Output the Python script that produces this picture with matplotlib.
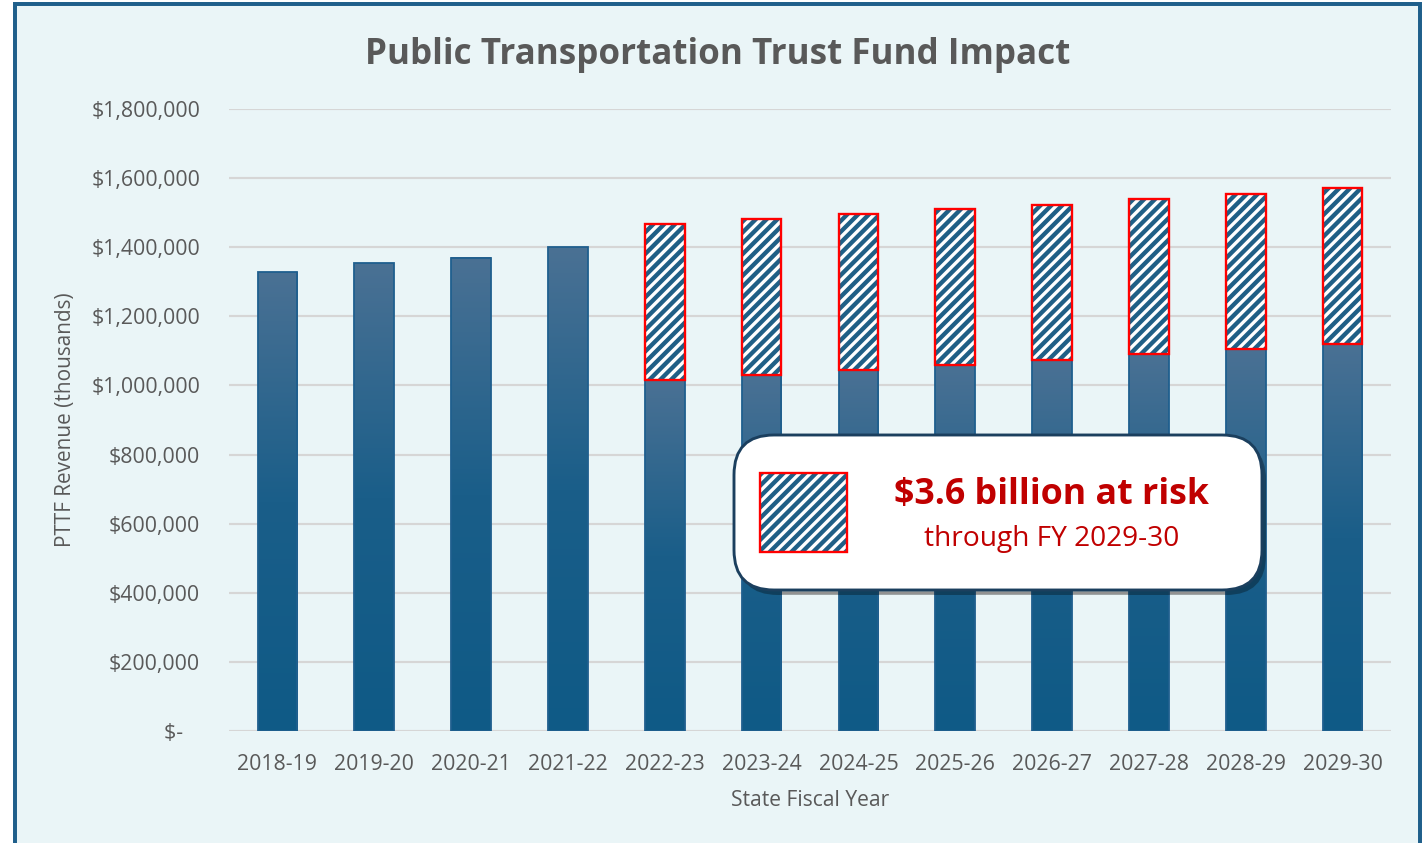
import numpy as np
import matplotlib
matplotlib.use('Agg')
import matplotlib.pyplot as plt
from matplotlib.patches import Rectangle, FancyBboxPatch
from matplotlib.colors import LinearSegmentedColormap
from matplotlib.ticker import FuncFormatter

# Data (PTTF revenue, thousands of dollars)
years = ['2018-19', '2019-20', '2020-21', '2021-22', '2022-23', '2023-24',
         '2024-25', '2025-26', '2026-27', '2027-28', '2028-29', '2029-30']
base_revenue = [1328000, 1354000, 1369000, 1400000, 1016000, 1030000,
                1045000, 1059000, 1073000, 1091000, 1105000, 1120000]
at_risk = [0, 0, 0, 0, 451000, 451000, 451000, 451000, 449000, 448000, 449000, 451000]
y_ticks = [0, 200000, 400000, 600000, 800000, 1000000, 1200000, 1400000, 1600000, 1800000]

bg_color = '#EAF5F7'
frame_color = '#1F5F8B'
text_gray = '#595959'
stripe_blue = '#1F5F86'
risk_red = '#C00000'

DPI = 130
plt.rcParams['font.family'] = ['Open Sans', 'DejaVu Sans']
plt.rcParams['hatch.linewidth'] = 2.4

fig = plt.figure(figsize=(1426 / DPI, 843 / DPI), dpi=DPI, facecolor='white')

# Outer frame of the chart area
W, H = 1426.0, 843.0
frame = Rectangle((15 / W, -0.05), (1420 - 15) / W, 1.05 - 4 / H, transform=fig.transFigure,
                  facecolor=bg_color, edgecolor=frame_color, linewidth=2.2, zorder=-5)
fig.patches.append(frame)

ax = fig.add_axes([229 / W, 1 - 731 / H, (1391 - 229) / W, (731 - 109) / H])
ax.set_facecolor('none')
x = np.arange(len(years))
bar_w = 0.41

# Gradient fill (light top -> dark bottom) per bar
grad_cmap = LinearSegmentedColormap.from_list('bar_grad', ['#0F5A86', '#1A5E89', '#4A7194'])
grad = np.linspace(0, 1, 256).reshape(-1, 1)

base_bars = ax.bar(x, base_revenue, width=bar_w, color='none', edgecolor='#1F5F8E',
                   linewidth=1.0, zorder=3)
for b in base_bars:
    x0, w, h = b.get_x(), b.get_width(), b.get_height()
    ax.imshow(grad, cmap=grad_cmap, origin='lower', aspect='auto',
              extent=(x0, x0 + w, 0, h), zorder=2, interpolation='bicubic')

# Hatched "at risk" segments
ax.bar(x, at_risk, bottom=base_revenue, width=bar_w, facecolor='white',
       edgecolor=stripe_blue, hatch='////', linewidth=0, zorder=3)
risk_idx = [i for i, v in enumerate(at_risk) if v > 0]
ax.bar([x[i] for i in risk_idx], [at_risk[i] for i in risk_idx],
       bottom=[base_revenue[i] for i in risk_idx], width=bar_w, fill=False,
       edgecolor='#FF0000', linewidth=1.3, zorder=4)

ax.set_xlim(-0.5, len(years) - 0.5)
ax.set_ylim(0, 1800000)
ax.set_yticks(y_ticks)
ax.yaxis.set_major_formatter(FuncFormatter(lambda v, p: '$-   ' if v == 0 else '${:,.0f}'.format(v)))
ax.set_xticks(x)
ax.set_xticklabels(years)
ax.grid(axis='y', color='#D6D6D6', linewidth=1.2)
ax.set_axisbelow(True)
for s in ax.spines.values():
    s.set_visible(False)
ax.tick_params(axis='both', length=0, colors=text_gray, labelsize=11.8)
ax.tick_params(axis='y', pad=16)
ax.tick_params(axis='x', pad=12.5)

fig.text(65 / W, 1 - 420 / H, 'PTTF Revenue (thousands)', rotation=90, ha='center', va='center',
         color=text_gray, fontsize=11.5)
fig.text(810 / W, 1 - 800 / H, 'State Fiscal Year', ha='center', va='center',
         color=text_gray, fontsize=11.7)
fig.text(718 / W, 1 - 55 / H, 'Public Transportation Trust Fund Impact', ha='center', va='center',
         color=text_gray, fontsize=19.4, fontweight='bold')

# Callout box
bx0, by0, bx1, by1 = 734 / W, 1 - 590 / H, 1262 / W, 1 - 435 / H
shadow = FancyBboxPatch((bx0 + 4 / W, by0 - 5 / H), bx1 - bx0, by1 - by0,
                        boxstyle='round,pad=0,rounding_size=0.028', transform=fig.transFigure,
                        facecolor='#00000050', edgecolor='none', zorder=5, mutation_aspect=W / H)
box = FancyBboxPatch((bx0, by0), bx1 - bx0, by1 - by0,
                     boxstyle='round,pad=0,rounding_size=0.028', transform=fig.transFigure,
                     facecolor='white', edgecolor='#1B3F5E', linewidth=1.6, zorder=6,
                     mutation_aspect=W / H)
fig.patches.extend([shadow, box])
key = Rectangle((760 / W, 1 - 552 / H), 87 / W, 79 / H, transform=fig.transFigure,
                facecolor='white', edgecolor=stripe_blue, hatch='////', linewidth=0, zorder=7)
key_edge = Rectangle((760 / W, 1 - 552 / H), 87 / W, 79 / H, transform=fig.transFigure,
                     fill=False, edgecolor='#FF0000', linewidth=1.3, zorder=8)
fig.patches.extend([key, key_edge])
fig.text(1052 / W, 1 - 495 / H, '$3.6 billion at risk', ha='center', va='center',
         color=risk_red, fontsize=19.8, fontweight='bold', zorder=9)
fig.text(1052 / W, 1 - 539 / H, 'through FY 2029-30', ha='center', va='center',
         color=risk_red, fontsize=15.6, zorder=9)

fig.savefig('out.png', dpi=DPI, facecolor='white')
